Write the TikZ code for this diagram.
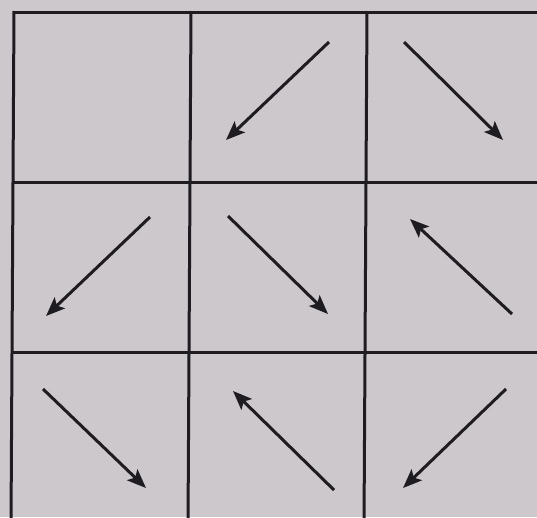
\documentclass[tikz,border=0pt]{standalone}
\usetikzlibrary{arrows.meta}
\definecolor{paper}{RGB}{204,200,204}
\definecolor{ink}{RGB}{30,28,32}
\tikzset{
  gridline/.style={ink, line width=3pt},
  arr/.style={ink, line width=3pt, -{Stealth[length=19pt,width=15pt,inset=4pt]}},
}
\begin{document}
\begin{tikzpicture}[x=1pt,y=-1pt]
\useasboundingbox (0,0) rectangle (537,517);
\fill[paper] (0,0) rectangle (537,517);
\begin{scope}
\clip (0,0) rectangle (537,517);
\draw[gridline] (14,12) -- (545,12);
\draw[gridline] (12,182) -- (545,182);
\draw[gridline] (11,352) -- (545,352);
\draw[gridline] (14,11) -- (11,525);
\draw[gridline] (191,11) -- (188,525);
\draw[gridline] (367,11) -- (364,525);
\end{scope}
% row 1
\coordinate (a2s) at (329,42);  \coordinate (a2e) at (226,140);
\coordinate (a3s) at (404,42);  \coordinate (a3e) at (503,140);
% row 2
\coordinate (b1s) at (150,217); \coordinate (b1e) at (46,316);
\coordinate (b2s) at (228,216); \coordinate (b2e) at (328,314);
\coordinate (b3s) at (512,314); \coordinate (b3e) at (410,219);
% row 3
\coordinate (c1s) at (43,389);  \coordinate (c1e) at (146,488);
\coordinate (c2s) at (334,490); \coordinate (c2e) at (233,391);
\coordinate (c3s) at (506,389); \coordinate (c3e) at (403,488);
\draw[arr] (a2s) -- (a2e);
\draw[arr] (a3s) -- (a3e);
\draw[arr] (b1s) -- (b1e);
\draw[arr] (b2s) -- (b2e);
\draw[arr] (b3s) -- (b3e);
\draw[arr] (c1s) -- (c1e);
\draw[arr] (c2s) -- (c2e);
\draw[arr] (c3s) -- (c3e);
\end{tikzpicture}
\end{document}
